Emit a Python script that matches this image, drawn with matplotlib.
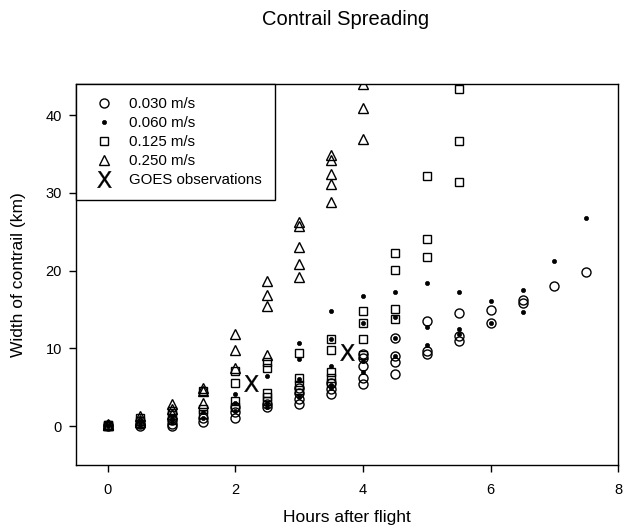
import matplotlib
matplotlib.use("Agg")
import matplotlib.pyplot as plt

plt.rcParams['font.family'] = ['Liberation Sans', 'DejaVu Sans']

# 0.030 m/s (open circles)
x_030 = [0, 0, 0.5, 0.5, 1, 1, 1, 1.5, 1.5, 2, 2, 2, 2.5, 2.5, 3, 3, 3, 3,
         3.5, 3.5, 3.5, 4, 4, 4, 4, 4, 4.5, 4.5, 4.5, 4.5, 5, 5, 5,
         5.5, 5.5, 5.5, 6, 6, 6.5, 6.5, 7, 7.5]
y_030 = [0, 0.1, 0, 0.3, 0, 0.3, 0.8, 0.5, 1.0, 1.1, 1.8, 2.5, 2.4, 2.8, 2.9, 3.5, 4.2, 4.9,
         4.1, 4.8, 5.5, 5.4, 6.2, 7.7, 8.8, 9.3, 6.7, 8.2, 9.0, 11.3, 9.3, 9.7, 13.5,
         10.9, 11.6, 14.6, 13.3, 14.9, 15.8, 16.2, 18.0, 19.8]

# 0.060 m/s (small dots)
x_060 = [0, 0, 0.5, 0.5, 1, 1, 1.5, 1.5, 2, 2, 2, 2.5, 2.5, 2.5, 3, 3, 3, 3,
         3.5, 3.5, 3.5, 3.5, 3.5, 4, 4, 4, 4, 4.5, 4.5, 4.5, 4.5, 5, 5, 5,
         5.5, 5.5, 5.5, 6, 6, 6.5, 6.5, 7, 7.5]
y_060 = [0, 0.1, 0.2, 0.5, 0.5, 1.0, 1.0, 1.8, 2.0, 3.0, 4.1, 2.5, 3.0, 6.4, 3.8, 6.0, 8.7, 10.7,
         4.9, 5.3, 7.7, 11.2, 14.8, 6.9, 8.4, 13.3, 16.8, 9.0, 11.4, 14.0, 17.3, 10.4, 12.7, 18.4,
         11.9, 12.5, 17.3, 13.3, 16.1, 14.7, 17.5, 21.3, 26.8]

# 0.125 m/s (open squares)
x_125 = [0, 0, 0, 0.5, 0.5, 0.5, 1, 1, 1, 1.5, 1.5, 1.5, 2, 2, 2, 2,
         2.5, 2.5, 2.5, 2.5, 2.5, 3, 3, 3, 3, 3.5, 3.5, 3.5, 3.5, 3.5,
         4, 4, 4, 4, 4.5, 4.5, 4.5, 4.5, 5, 5, 5, 5.5, 5.5, 5.5]
y_125 = [0, 0.1, 0.2, 0.3, 0.6, 1.0, 0.8, 1.4, 1.9, 1.5, 2.2, 4.5, 2.5, 3.2, 5.5, 7.1,
         3.2, 3.7, 4.2, 7.5, 8.2, 4.6, 5.3, 6.2, 9.4, 5.6, 6.2, 6.9, 9.8, 11.2,
         9.2, 11.2, 13.3, 14.8, 13.8, 15.1, 20.1, 22.3, 21.7, 24.1, 32.2, 31.4, 36.7, 43.4]

# 0.250 m/s (open triangles)
x_250 = [0, 0, 0, 0.5, 0.5, 0.5, 1, 1, 1, 1.5, 1.5, 1.5, 2, 2, 2,
         2.5, 2.5, 2.5, 2.5, 3, 3, 3, 3, 3, 3.5, 3.5, 3.5, 3.5, 3.5, 4, 4, 4]
y_250 = [0.1, 0.2, 0.3, 0.5, 0.8, 1.3, 1.5, 2.2, 2.8, 3.0, 4.5, 4.9, 7.5, 9.8, 11.8,
         9.2, 15.5, 16.9, 18.7, 19.2, 20.8, 23.1, 25.8, 26.3, 28.8, 31.1, 32.5, 34.3, 34.9,
         37.0, 40.9, 44.0]

# GOES observations
x_goes = [2.25, 3.75]
y_goes = [5.6, 9.5]

labels = ['0.030 m/s', '0.060 m/s', '0.125 m/s', '0.250 m/s', 'GOES observations']
x_ticks = [0, 2, 4, 6, 8]
y_ticks = [0, 10, 20, 30, 40]

fig = plt.figure(figsize=(6.27, 5.29), dpi=100)
ax = fig.add_axes([0.121, 0.121, 0.865, 0.720])

ax.plot(x_030, y_030, linestyle='none', marker='o', ms=6.5, mfc='none', mec='black', mew=1.0,
        label=labels[0])
ax.plot(x_060, y_060, linestyle='none', marker='o', ms=3.0, mfc='black', mec='black', mew=0.5,
        label=labels[1])
ax.plot(x_125, y_125, linestyle='none', marker='s', ms=6.0, mfc='none', mec='black', mew=1.0,
        label=labels[2])
ax.plot(x_250, y_250, linestyle='none', marker='^', ms=6.5, mfc='none', mec='black', mew=1.0,
        label=labels[3])
ax.plot(x_goes, y_goes, linestyle='none', marker=r'$\mathsf{X}$', ms=12, mfc='black', mec='black',
        mew=0.2, label=labels[4])

ax.set_xlim(-0.5, 8)
ax.set_ylim(-5, 44)
ax.set_xticks(x_ticks)
ax.set_yticks(y_ticks)
ax.tick_params(direction='out', length=5, width=1, labelsize=10.5, colors='black')
ax.tick_params(axis='x', pad=8)
ax.tick_params(axis='y', pad=5)
for s in ax.spines.values():
    s.set_linewidth(1.0)

ax.set_xlabel('Hours after flight', fontsize=12.5, labelpad=9)
ax.set_ylabel('Width of contrail (km)', fontsize=12.5, labelpad=14)
fig.text(0.551, 0.953, 'Contrail Spreading', ha='center', va='baseline', fontsize=14.5)

leg = ax.legend(loc='upper left', bbox_to_anchor=(0, 1), borderaxespad=0, fancybox=False,
                edgecolor='black', framealpha=1, fontsize=10.8, handlelength=2.0,
                handletextpad=0.7, borderpad=0.85, labelspacing=0.34)
leg.get_frame().set_linewidth(1.0)

fig.savefig('out.png', dpi=100)
